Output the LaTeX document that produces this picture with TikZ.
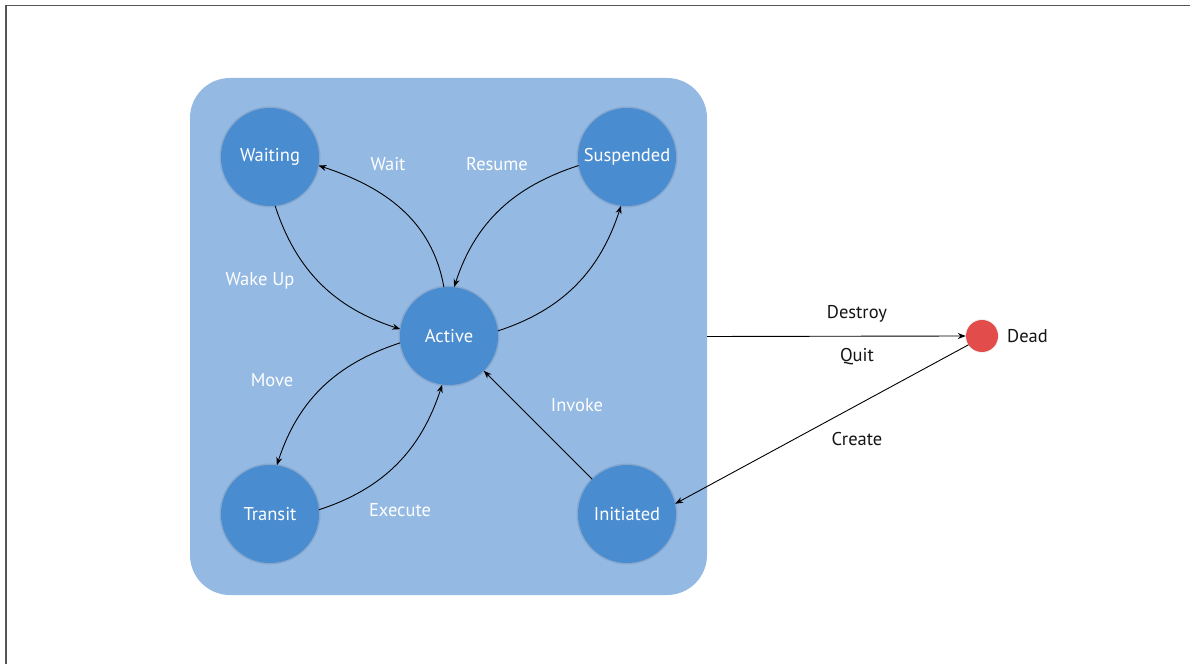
\documentclass[tikz,border=0pt]{standalone}
\usepackage{fontspec}
\setmainfont{PT Sans}
\usetikzlibrary{arrows.meta}
\definecolor{panel}{RGB}{148,185,227}
\definecolor{state}{RGB}{74,140,208}
\definecolor{halt}{RGB}{226,76,75}
\definecolor{framegray}{RGB}{85,85,85}
\begin{document}
\begin{tikzpicture}[x=1pt,y=1pt,
  statenode/.style={circle, fill=state, minimum size=98pt, inner sep=0pt,
    text=white, font=\fontsize{18.5}{22}\selectfont,
    preaction={draw=black!35!panel, line width=3pt, opacity=0.25}},
  lbl/.style={text=white, font=\fontsize{18.5}{22}\selectfont, inner sep=0pt},
  blbl/.style={text=black!92, font=\fontsize{18.5}{22}\selectfont, inner sep=0pt},
  link/.style={draw=black, line width=0.9pt, -{Stealth[length=8pt,width=6pt]}}]
\useasboundingbox (0,0) rectangle (1190,664);
% outer frame (top and left edges)
\draw[framegray, line width=1.3pt] (6,0) -- (6,658.5) -- (1190,658.5);

% container of the running states
\node[fill=panel, rounded corners=40pt, minimum width=517pt, minimum height=517pt,
      inner sep=0pt] (panel) at (448.5,327.5) {};

% states
\node[statenode] (waiting)   at (270,507) {\raisebox{-1.5pt}{Waiting}};
\node[statenode] (suspended) at (627,507) {\raisebox{-1.5pt}{Suspended}};
\node[statenode] (active)    at (449,328) {Active};
\node[statenode] (transit)   at (270,150) {Transit};
\node[statenode] (initiated) at (627,150) {Initiated};
\node[circle, fill=halt, minimum size=32pt, inner sep=0pt,
      preaction={draw=black!15, line width=2pt, opacity=0.4}] (dead) at (982,328) {};
\node[blbl, anchor=west] (deadlbl) at (1007,328) {Dead};

% transitions
\draw[link] (active.96) to[out=100, in=-18] (waiting.-10);
\draw[link] (suspended.190) to[out=198, in=72] (active.84);
\draw[link] (active.6) to[out=18, in=-108] (suspended.263);
\draw[link] (waiting.276) to[out=-72, in=162] (active.172);
\draw[link] (active.188) to[out=198, in=72] (transit.82);
\draw[link] (transit.5) to[out=18, in=-108] (active.262);
\draw[link] (initiated) -- (active);
\draw[link] (panel.east) -- (dead.west);
\draw[link] (dead.213) -- (initiated.12);

% transition labels
\node[lbl] (lwait)    at (388,500) {Wait};
\node[lbl] (lresume)  at (497,500) {Resume};
\node[lbl] (lwake)    at (260,383) {Wake Up};
\node[lbl] (lmove)    at (272,284) {Move};
\node[lbl] (lexecute) at (400,154) {Execute};
\node[lbl] (linvoke)  at (577,259) {Invoke};
\node[blbl] (ldestroy) at (857,350) {Destroy};
\node[blbl] (lquit)    at (857,307) {Quit};
\node[blbl] (lcreate)  at (857,225) {Create};
\end{tikzpicture}
\end{document}
